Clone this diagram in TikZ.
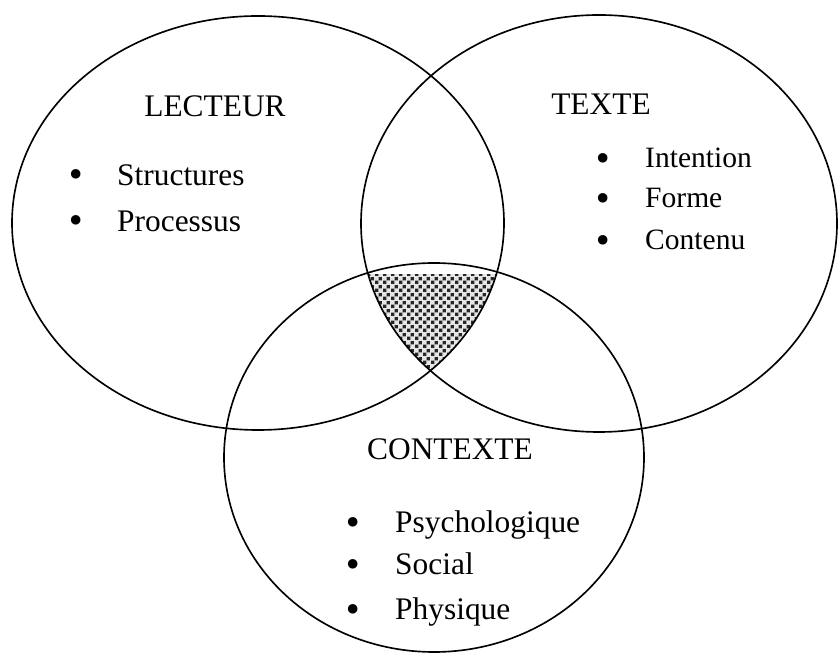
\documentclass[tikz,border=0pt]{standalone}
\usepackage{fontspec}
\setmainfont{Liberation Serif}
\newfontfamily\bulfont{DejaVu Sans}
\usepackage{tikz}
\usetikzlibrary{patterns.meta}

\tikzdeclarepattern{
  name=venndots,
  type=uncolored,
  bounding box={(0pt,0pt) and (6.4pt,6.4pt)},
  tile size={(6.4pt,6.4pt)},
  code={
    \fill (0.2pt,0.2pt) rectangle (3.1pt,3.1pt);
    \fill (3.4pt,3.4pt) rectangle (6.3pt,6.3pt);
  }
}

\begin{document}
\begin{tikzpicture}[
  x=0.03cm, y=0.03cm,
  venn/.style={line width=1.4pt},
  title/.style={anchor=base, inner sep=0pt, font=\fontsize{26.8}{30}\selectfont},
  item/.style={anchor=base west, inner sep=0pt, font=\fontsize{26.8}{30}\selectfont},
  smallitem/.style={item, font=\fontsize{25.2}{28}\selectfont},
  bul/.style={anchor=base, inner sep=0pt, font=\bulfont\fontsize{28}{30}\selectfont}
]
\useasboundingbox (0,0) rectangle (838,653);

% common part of the three sets
\begin{scope}
  \clip (258,430) ellipse [x radius=246, y radius=207];
  \clip (599,429.5) ellipse [x radius=238, y radius=208.5];
  \clip (434,195.5) ellipse [x radius=210, y radius=194.5];
  \clip (0,0) rectangle (838,378);
  \fill[black!10] (0,0) rectangle (838,653);
  \fill[pattern=venndots, pattern color=black!85] (0,0) rectangle (838,653);
\end{scope}

\draw[venn] (258,430) ellipse [x radius=246, y radius=207];
\draw[venn] (599,429.5) ellipse [x radius=238, y radius=208.5];
\draw[venn] (434,195.5) ellipse [x radius=210, y radius=194.5];

\node[title] (lecteur) at (215,536) {LECTEUR};
\node[title] (texte) at (601,538) {TEXTE};
\node[title] (contexte) at (450,193) {CONTEXTE};

\foreach \txt/\yy [count=\i] in {Structures/467, Processus/421} {
  \node[bul] (lectb\i) at (76,\yy-1) {•};
  \node[item] (lect\i) at (117,\yy) {\txt};
}
\foreach \txt/\yy [count=\i] in {Intention/485, Forme/445, Contenu/403} {
  \node[bul] (texb\i) at (603,\yy-3) {•};
  \node[smallitem] (tex\i) at (645,\yy) {\txt};
}
\foreach \txt/\yy [count=\i] in {Psychologique/120, Social/78, Physique/33} {
  \node[bul] (ctxb\i) at (353,\yy-2) {•};
  \node[item] (ctx\i) at (395,\yy) {\txt};
}
\end{tikzpicture}
\end{document}
